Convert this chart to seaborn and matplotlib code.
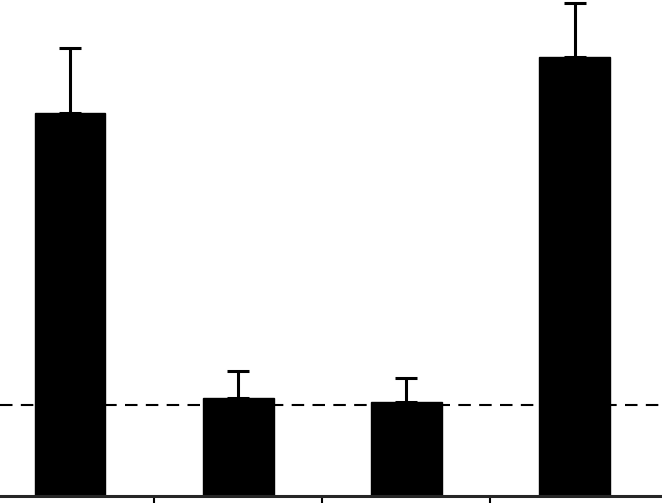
import matplotlib
matplotlib.use("Agg")
import matplotlib.pyplot as plt
import seaborn as sns
import pandas as pd
import numpy as np

categories = ["A", "B", "C", "D"]
values = [4.21, 1.08, 1.03, 4.82]
errors = [0.71, 0.29, 0.27, 0.60]
reference_level = 1.0

sns.set_style("white")
fig = plt.figure(figsize=(6.62, 5.03), dpi=100)
ax = fig.add_axes([0, 0, 1, 1])

df = pd.DataFrame({"cat": categories, "val": values})
sns.barplot(data=df, x="cat", y="val", color="black", width=0.42,
            errorbar=None, ax=ax, saturation=1)
for p in ax.patches:
    p.set_edgecolor("black")

x = np.arange(len(categories))
ax.errorbar(x, values, yerr=[np.zeros(len(errors)), errors], fmt="none",
            ecolor="black", elinewidth=2.2, capsize=8, capthick=2.2, zorder=1)

ax.axhline(reference_level, color="black", linestyle=(0, (6, 4)), linewidth=1.5, zorder=0)

ax.set_xlim(-0.417, 3.52)
ax.set_ylim(-0.077, 5.451)
for s in ["top", "right", "left"]:
    ax.spines[s].set_visible(False)
ax.spines["bottom"].set_position(("data", 0))
ax.spines["bottom"].set_linewidth(2.2)
ax.set_xticks([0.5, 1.5, 2.5])
ax.set_xticklabels([])
ax.tick_params(axis="x", direction="out", length=5, width=1.5, colors="black", bottom=True)
ax.set_yticks([])
ax.set_xlabel("")
ax.set_ylabel("")

fig.savefig("out.png", dpi=100)
